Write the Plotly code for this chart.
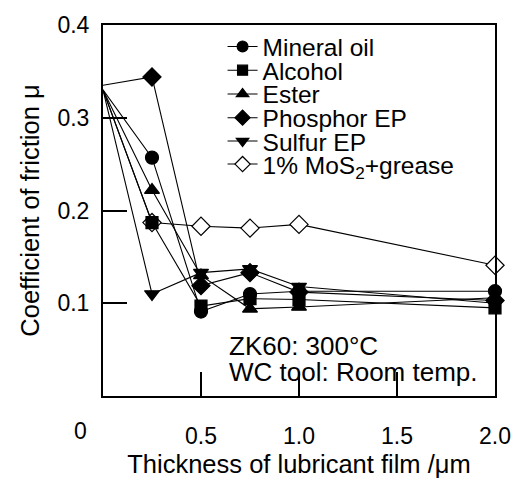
import plotly.graph_objects as go

# Film thickness (um) and friction coefficient for each lubricant
thickness = [0, 0.25, 0.5, 0.75, 1.0, 2.0]
mineral_oil = [0.33, 0.257, 0.091, 0.110, 0.113, 0.113]
alcohol = [0.33, 0.187, 0.097, 0.105, 0.104, 0.095]
ester = [0.33, 0.222, 0.130, 0.094, 0.096, 0.106]
phosphor_ep = [0.335, 0.344, 0.119, 0.133, 0.112, 0.103]
sulfur_ep = [0.33, 0.110, 0.133, 0.137, 0.118, 0.100]
mos2_grease = [0.33, 0.187, 0.183, 0.181, 0.185, 0.141]

series_names = ["Mineral oil", "Alcohol", "Ester", "Phosphor EP",
                "Sulfur EP", "1% MoS<sub>2</sub>+grease"]
series_values = [mineral_oil, alcohol, ester, phosphor_ep, sulfur_ep, mos2_grease]

x_tick_vals = [0.5, 1.0, 1.5, 2.0]
x_tick_text = ["0.5", "1.0", "1.5", "2.0"]
y_tick_vals = [0.1, 0.2, 0.3, 0.4]
y_tick_text = ["0.1", "0.2", "0.3", "0.4"]

FONT = "Liberation Sans, Arial, Helvetica, sans-serif"
symbols = ["circle", "square", "triangle-up", "diamond", "triangle-down", "diamond"]
sizes = [13, 12, 13, 14, 13, 14]
fills = ["black", "black", "black", "black", "black", "white"]
legend_rows = [0.942, 0.878, 0.814, 0.750, 0.687, 0.625]

fig = go.Figure()
# drawn last-to-first so the filled markers sit above the open diamonds
for i in reversed(range(len(series_names))):
    name, vals = series_names[i], series_values[i]
    # the common starting point at zero thickness is shown without a marker
    msize = [0] + [sizes[i]] * (len(thickness) - 1)
    fig.add_trace(go.Scatter(
        x=thickness, y=vals, name=name, mode="lines+markers",
        line=dict(color="black", width=1.1),
        marker=dict(symbol=symbols[i], size=msize, color=fills[i], opacity=1,
                    line=dict(color="black", width=1.2)),
        cliponaxis=False,
        legend="legend" if i == 0 else f"legend{i + 1}",
    ))

legend_style = dict(
    x=0.305, xanchor="left", yanchor="middle",
    bgcolor="rgba(0,0,0,0)", borderwidth=0,
    font=dict(family=FONT, size=24.5, color="black"),
    itemclick=False, itemdoubleclick=False,
)
layout_legends = {}
for i, yv in enumerate(legend_rows):
    key = "legend" if i == 0 else f"legend{i + 1}"
    layout_legends[key] = dict(legend_style, y=yv)

fig.update_layout(
    width=523, height=486,
    margin=dict(l=103, r=26, t=18, b=78),
    paper_bgcolor="white", plot_bgcolor="white",
    font=dict(family=FONT, size=23, color="black"),
    showlegend=True,
    **layout_legends,
)

fig.update_xaxes(
    range=[0, 2.0], tickvals=x_tick_vals, ticktext=x_tick_text,
    ticks="inside", ticklen=24, tickwidth=2, tickcolor="black",
    showline=True, linewidth=2, linecolor="black", mirror=True,
    showgrid=False, zeroline=False, ticklabelstandoff=18,
    tickfont=dict(family=FONT, size=23),
    title=dict(text="Thickness of lubricant film /μm", standoff=8,
               font=dict(family=FONT, size=25.5)),
)
fig.update_yaxes(
    range=[0, 0.4], tickvals=y_tick_vals, ticktext=y_tick_text,
    ticks="inside", ticklen=24, tickwidth=2, tickcolor="black",
    showline=True, linewidth=2, linecolor="black", mirror=True,
    showgrid=False, zeroline=False, ticklabelstandoff=7,
    tickfont=dict(family=FONT, size=23),
    title=dict(text="Coefficient of friction μ", standoff=10,
               font=dict(family=FONT, size=25.5)),
)

# shared origin label, set left of the corner
fig.add_annotation(x=0, y=0, xref="x", yref="paper", text="0",
                   showarrow=False, xanchor="center", yanchor="top",
                   xshift=-23, yshift=-20, font=dict(family=FONT, size=23))

# test conditions
fig.add_annotation(x=0.317, y=0.134, xref="paper", yref="paper",
                   text="ZK60: 300°C", showarrow=False,
                   xanchor="left", yanchor="middle",
                   font=dict(family=FONT, size=26))
fig.add_annotation(x=0.317, y=0.066, xref="paper", yref="paper",
                   text="WC tool: Room temp.", showarrow=False,
                   xanchor="left", yanchor="middle",
                   font=dict(family=FONT, size=26))

fig.write_html("out.html")
